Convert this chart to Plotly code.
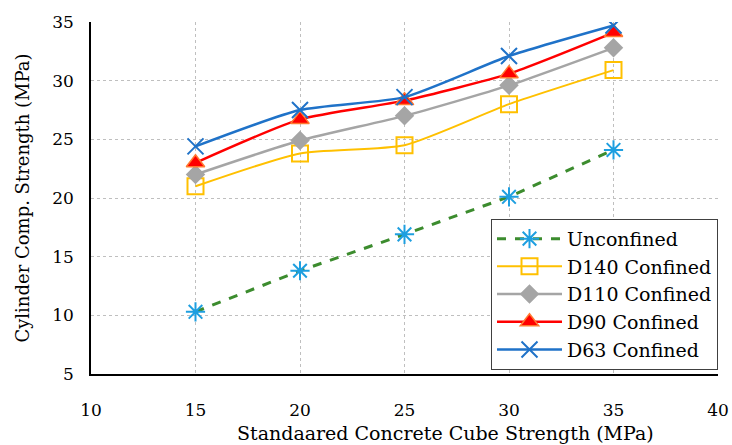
import plotly.graph_objects as go

x_vals = [15, 20, 25, 30, 35]
unconfined = [10.3, 13.8, 16.9, 20.1, 24.1]
d140 = [21.0, 23.8, 24.5, 28.0, 30.9]
d110 = [22.0, 24.9, 27.0, 29.6, 32.8]
d90 = [23.0, 26.7, 28.3, 30.6, 34.1]
d63 = [24.4, 27.5, 28.6, 32.1, 34.7]

FONT = "DejaVu Serif, Liberation Serif, serif"

fig = go.Figure()
fig.add_trace(go.Scatter(
    x=x_vals, y=unconfined, name="Unconfined", mode="lines+markers",
    line=dict(color="#3C8C2E", width=3, dash="dash"),
    marker=dict(symbol="asterisk-open", size=16, color="#1E9FE0", line=dict(color="#1E9FE0", width=2))))
fig.add_trace(go.Scatter(
    x=x_vals, y=d140, name="D140 Confined", mode="lines+markers",
    line=dict(color="#FFC000", width=2, shape="spline", smoothing=0.6),
    marker=dict(symbol="square-open", size=16, color="#FFC000", line=dict(color="#FFC000", width=2))))
fig.add_trace(go.Scatter(
    x=x_vals, y=d110, name="D110 Confined", mode="lines+markers",
    line=dict(color="#A5A5A5", width=2.5, shape="spline", smoothing=0.6),
    marker=dict(symbol="diamond", size=15, color="#A5A5A5")))
fig.add_trace(go.Scatter(
    x=x_vals, y=d90, name="D90 Confined", mode="lines+markers",
    line=dict(color="#FF0000", width=2.5, shape="spline", smoothing=0.6),
    marker=dict(symbol="triangle-up", size=16, color="#FF0000", line=dict(color="#FF7A30", width=1.5))))
fig.add_trace(go.Scatter(
    x=x_vals, y=d63, name="D63 Confined", mode="lines+markers",
    line=dict(color="#1F72C8", width=2.5, shape="spline", smoothing=0.6),
    marker=dict(symbol="x-thin-open", size=16, color="#1F72C8", line=dict(color="#1F72C8", width=2))))

fig.update_layout(
    width=732, height=445,
    margin=dict(l=91, r=14, t=22, b=71),
    paper_bgcolor="white", plot_bgcolor="white",
    font=dict(family=FONT, size=17, color="black"),
    showlegend=True,
    legend=dict(x=1.0, xanchor="right", y=0.012, yanchor="bottom",
                bordercolor="#404040", borderwidth=1, bgcolor="white",
                font=dict(family=FONT, size=19), tracegroupgap=0, itemwidth=65),
    xaxis=dict(range=[10, 40], dtick=5, showgrid=True, gridcolor="#BFBFBF", griddash="dot",
               gridwidth=1, showline=True, linecolor="black", linewidth=1.5, zeroline=False,
               ticks="", tickfont=dict(size=17), ticklabelstandoff=20, automargin=False),
    yaxis=dict(range=[5, 35], dtick=5, showgrid=True, gridcolor="#BFBFBF", griddash="dot",
               gridwidth=1, showline=True, linecolor="black", linewidth=1.5, zeroline=False,
               ticks="", tickfont=dict(size=17), ticklabelstandoff=12, automargin=False,
               title=dict(text="Cylinder Comp. Strength (MPa)", standoff=18,
                          font=dict(size=18))),
    annotations=[dict(text="Standaared Concrete Cube Strength (MPa)", xref="paper", yref="paper",
                      x=0.566, y=-0.168, xanchor="center", yanchor="middle", showarrow=False,
                      font=dict(family=FONT, size=19))],
)

fig.write_html("out.html")
